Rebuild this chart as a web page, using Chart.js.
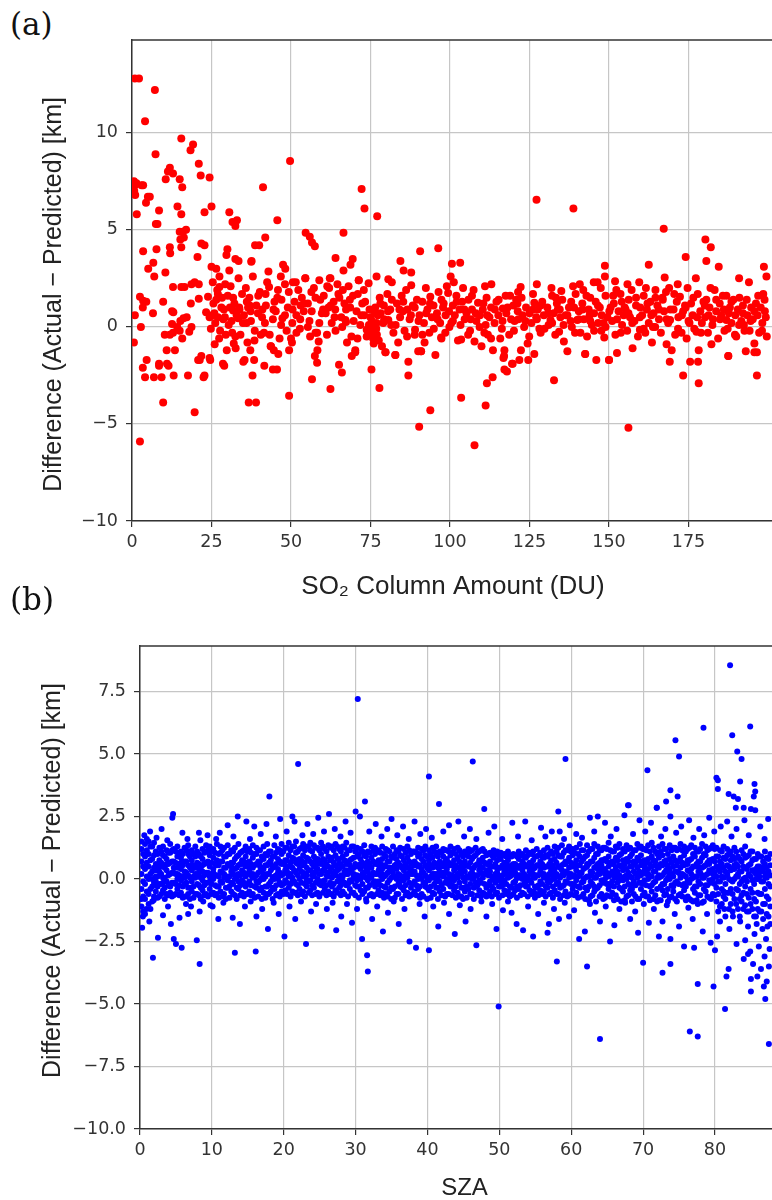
<!DOCTYPE html>
<html>
<head>
<meta charset="utf-8">
<script src="https://cdn.jsdelivr.net/npm/chart.js@4.4.1/dist/chart.umd.min.js"></script>
<style>
html, body { margin: 0; padding: 0; background: #fff; overflow: hidden; }
#page { position: relative; width: 772px; height: 1200px; overflow: hidden; }
.tag { position: absolute; left: 10px; font-family: "DejaVu Serif", serif; font-size: 31px; line-height: 1; color: #111; }
canvas { position: absolute; left: 0; }
</style>
</head>
<body>
<div id="page">
  <div class="tag" style="top:9px">(a)</div>
  <canvas id="chartA" width="778" height="600" style="top:0"></canvas>
  <div class="tag" style="top:584px">(b)</div>
  <canvas id="chartB" width="792" height="600" style="top:600px"></canvas>
</div>
<script>
// ---- panel (a): SO2 column amount vs difference ----
const so2Ticks = [0, 25, 50, 75, 100, 125, 150, 175];
const diffTicksA = [-10, -5, 0, 5, 10];

// low SO2, wide spread
const so2Low = [
  [0.9,12.8],[2.2,12.8],[7.2,12.2],[4.1,10.6],[15.5,9.7],[19.2,9.4],[18.4,9.1],[7.4,8.9],[21,8.4],[11.9,8.2],[11.3,8.0],[12.9,7.9],[10.6,7.6],[15,7.6],[15.8,7.2],[21.6,7.8],[24.4,7.7],
  [0.6,7.5],[0.9,7.3],[0.7,7.0],[1.0,6.8],[1.4,7.4],[3,7.3],[3.5,7.3],[5.6,6.7],[5,6.7],[4.4,6.4],[1.5,5.8],[8.5,6.0],[14.3,6.2],[15.5,5.8],[7.5,5.3],[8,5.3],[25,6.2],[22.8,5.9],
  [15,4.9],[15.2,4.5],[16,4.9],[16.3,4.6],[17,5.0],[3.5,3.9],[7.7,4.0],[11.9,4.1],[12,3.8],[15.5,4.1],[21.8,4.3],[22.8,4.2],[20.6,3.6],
  [5.1,3.0],[6.7,3.3],[7,2.6],[10.5,2.8],[12.9,2.05],[15.5,2.05],[16.5,2.05],[18.7,2.2],[19.7,2.3],[21,2.2],[23.9,1.55],[21,1.45],
  [2.5,1.55],[3.5,1.35],[4.5,1.3],[9.8,1.3],[3.4,1.0],[6.6,0.7],[12.6,0.8],[18.5,1.2],[13,0.75],[0.9,0.6],[12.6,0.15],[15.2,0.3],[16.2,0.45],[17.2,0.5],[14.2,0.0],[23.3,0.75],[24.4,0.5],
  [2.8,0],[18.7,0],[24.8,-0.1],[0.6,-0.8],[10.3,-0.4],[11.9,-0.4],[12.9,-0.3],[15,-0.2],[15.8,-0.6],[18,-0.25],[10.9,-1.2],[13.5,-1.2],[21.8,-1.5],[24.4,-1.6],[20.8,-1.7],
  [4.6,-1.7],[3.4,-2.1],[8.5,-1.9],[11,-1.9],[4.1,-2.6],[6.9,-2.6],[8.5,-2.0],[9.3,-2.6],[11.5,-2.0],[13.1,-2.5],[17.6,-2.5],[21.3,-1.7],[22.5,-2.6],[22.8,-2.5],[24.6,-1.7],
  [9.8,-3.9],[19.7,-4.4],[2.5,-5.9]
];

// main band, SO2 25-200
const so2Band = [
  [25.6,1.2],[26.2,0.2],[26.8,1.9],[27.4,-0.6],[28.1,1.0],[28.7,0.4],[29.3,2.2],[29.8,-1.2],[26.0,-0.9],[28.3,1.5],
  [25.4,2.3],[27.5,2.05],[27,1.7],[25,3.1],[26.5,3.0],[27.5,2.6],[30.6,2.9],[30,4.0],[29.7,3.7],[32.5,3.5],[33.5,3.4],[37.5,3.35],[40,4.2],[30.6,5.9],[31.6,5.4],[32.5,5.2],[33,5.5],
  [25.9,0.7],[27,0.5],[29.2,0.5],[31.8,0.85],[33.4,0.45],[36,0.2],[36.5,1.0],[37,1.1],[31.8,1.5],[29.5,-0.4],[32,-0.85],[32.6,-1.1],[35.4,-1.7],[38.4,-1.7],[28.6,-1.9],[29,-2.0],[35,-1.8],[37.9,-2.5],[36.7,-3.9],[39,-3.9],
  [30.4,0.1],[31.0,2.1],[31.5,-0.3],[32.2,1.2],[32.9,0.6],[33.5,2.5],[34.1,-0.4],[34.6,1.7],[30.8,1.0],[33.8,0.9],
  [35.2,0.6],[35.8,2.0],[36.3,-0.8],[36.9,1.5],[37.4,0.3],[38.0,2.6],[38.6,-0.2],[39.1,1.1],[39.6,0.7],[37.2,-1.2],
  [40.2,1.8],[40.5,-0.4],[41.0,0.9],[41.5,-0.3],[42.0,1.7],[42.5,2.3],[43.1,2.05],[43.6,-1.0],[44.3,0.4],[44.8,1.3],[41.8,0.2],
  [45.2,0.8],[45.9,1.9],[46.4,-0.6],[47.0,1.4],[47.3,0.45],[48.1,2.2],[48.6,-0.2],[49.0,1.0],[49.4,-1.2],[50.0,-0.6],[46.8,2.6],
  [50.4,0.2],[50.3,-0.8],[51.1,1.3],[51.7,0.6],[52.3,1.9],[52.8,-0.1],[53.4,1.5],[54.0,0.8],[54.5,2.5],[53.0,1.1],[51.5,2.3],
  [55.3,1.2],[55.8,0.3],[56.4,1.8],[57.2,2.0],[57.7,-0.3],[58.2,-0.3],[58.7,-0.75],[59.2,1.4],[59.7,0.7],[56.0,-0.5],[58.9,2.4],
  [60.3,1.6],[60.9,0.7],[61.4,2.1],[62.0,2.0],[62.4,2.5],[62.8,0.2],[63.4,1.3],[64.0,-0.2],[64.6,2.2],[61.8,1.0],[63.9,0.9],
  [65.2,1.5],[65.8,0.5],[66.3,1.9],[67.1,0.35],[67.3,0.25],[67.6,-0.8],[68.1,2.1],[68.6,1.0],[69.0,-0.5],[69.5,1.6],[66.8,1.2],
  [70.2,-1.2],[70.6,0.8],[71.0,1.7],[71.3,2.4],[71.8,0.1],[72.4,1.2],[73.0,0.6],[73.8,-0.15],[73.8,-0.5],[74.4,2.25],[74.7,0.9],[72.9,1.9],
  [75.1,-0.3],[75.4,0.3],[75.8,-0.6],[76.0,-0.85],[76.3,0.0],[76.5,1.0],[77.0,-0.4],[77.3,0.6],[77.9,1.5],[78.6,-1.0],[79.0,0.2],[79.7,-1.3],[79.2,1.1],[76.8,-0.1],[78.2,0.7],
  [80.3,1.7],[80.6,0.35],[80.6,2.45],[81.2,0.9],[81.7,2.3],[82.2,-0.3],[82.8,-1.45],[83.3,1.2],[83.7,-0.8],[84.3,0.5],[84.8,1.6],[81.5,0.1],
  [85.2,0.8],[85.7,-0.2],[86.2,1.9],[86.9,-1.8],[86.9,-2.5],[87.3,0.4],[87.8,2.15],[88.3,1.1],[88.9,-0.4],[89.0,-0.15],[89.6,1.4],[86.6,0.9],
  [90.0,-1.25],[90.4,0.6],[90.9,-1.25],[91.3,1.3],[91.8,0.2],[92.4,2.0],[92.9,0.9],[93.5,-0.3],[93.8,1.55],[94.3,0.5],[94.8,1.1],[92.0,-0.8],
  [95.4,-1.45],[95.9,0.7],[96.4,1.8],[96.9,0.2],[97.2,-0.55],[97.3,-0.6],[98.0,1.2],[98.6,0.6],[99.0,2.1],[99.4,1.75],[99.8,0.0],[97.8,1.0],
  [100.4,0.2],[100.9,1.1],[101.5,0.6],[102.0,1.6],[102.5,-0.7],[103.0,0.9],[103.5,-0.65],[104.1,2.0],[104.6,0.4],[101.2,2.3],[103.8,1.3],
  [105.2,0.7],[105.8,1.4],[106.3,-0.2],[106.9,0.9],[107.4,1.9],[107.7,-0.75],[108.3,0.3],[108.8,1.25],[109.4,0.6],[109.9,-1.0],[106.5,0.4],
  [110.3,0.9],[110.8,-0.3],[111.5,1.5],[111.9,-0.4],[112.4,0.5],[112.9,1.0],[113.5,-1.2],[114.0,0.2],[114.6,1.3],[113.0,2.2],[111.2,0.1],
  [115.2,0.6],[115.8,-0.6],[116.3,-0.1],[116.6,0.95],[117.1,-1.2],[117.5,1.6],[118.1,1.0],[118.6,-0.4],[119.2,0.4],[119.7,-1.9],[119.9,1.1],[117.0,-1.5],
  [120.3,0.3],[120.8,1.4],[121.2,1.2],[121.8,-1.7],[122.3,-1.2],[122.8,0.6],[123.3,0.0],[123.9,1.0],[124.4,-0.85],[124.6,-1.7],[125.0,0.7],[121.5,0.4],
  [125.6,0.2],[126.1,1.7],[126.5,1.25],[126.5,-1.4],[127.1,0.5],[127.6,0.9],[128.1,-0.1],[128.5,-0.3],[129.0,1.3],[129.5,0.6],[127.3,2.2],
  [130.6,1.0],[131.0,0.1],[131.6,0.35],[132.1,1.6],[132.6,0.7],[133.1,-0.4],[133.6,1.2],[134.3,-0.25],[134.7,0.5],[131.9,2.0],[133.9,0.9],
  [135.3,1.4],[135.8,-0.75],[136.4,0.6],[136.9,-1.25],[137.4,1.0],[137.9,0.3],[138.3,0.0],[139.0,1.0],[139.5,1.7],[140.0,0.35],[138.7,2.1],
  [140.5,0.8],[141.0,-0.3],[141.6,1.2],[142.1,0.4],[142.5,-1.4],[143.1,-0.5],[143.6,0.9],[144.1,1.5],[144.6,0.1],[141.9,1.9],[143.9,0.6],
  [145.3,0.7],[145.8,1.3],[146.0,-1.7],[146.6,0.2],[147.1,1.0],[147.6,-0.2],[148.3,0.2],[148.5,-0.55],[148.9,1.6],[149.5,0.5],[150.0,-1.7],[147.4,2.0],
  [150.5,1.0],[151.0,0.3],[151.5,1.2],[152.0,-0.4],[152.5,-1.35],[153.0,0.8],[153.6,1.7],[154.1,0.1],[154.6,0.6],[152.3,1.9],[154.0,1.3],
  [155.2,0.9],[155.7,-0.2],[156.2,1.4],[156.6,0.5],[157.1,1.9],[157.4,-1.1],[158.0,0.3],[158.5,1.1],[159.1,-0.5],[159.7,-0.15],[159.8,1.0],
  [160.4,0.6],[160.9,1.6],[161.4,-0.3],[161.9,0.9],[162.5,0.2],[163.0,1.3],[163.5,-0.8],[164.0,0.7],[164.6,1.9],[161.6,2.0],[163.8,0.0],
  [165.2,1.1],[165.7,0.4],[166.3,-0.3],[166.8,1.5],[167.3,0.8],[168.1,-0.9],[168.6,0.2],[169.2,0.35],[169.7,-1.2],[169.1,-1.8],[167.9,1.8],
  [170.3,0.9],[170.8,-0.4],[171.3,1.3],[171.8,0.5],[172.3,1.55],[172.8,-0.3],[173.3,0.8],[173.9,1.1],[174.4,-0.6],[175.0,0.3],[171.6,2.2],
  [175.5,-1.8],[175.8,1.2],[176.3,0.6],[176.8,-0.1],[177.5,-0.25],[177.9,1.7],[178.0,-1.8],[178.2,-1.2],[178.7,0.8],[179.2,0.2],[179.7,1.3],
  [180.2,0.5],[180.6,1.4],[181.1,-0.3],[181.6,1.0],[182.2,-0.9],[182.7,0.4],[183.2,1.9],[183.7,0.8],[184.3,-0.6],[184.8,1.2],[181.9,2.0],
  [185.3,0.6],[185.8,1.6],[186.3,-0.2],[186.9,0.35],[186.9,1.6],[187.5,-1.5],[188.0,1.0],[188.5,0.2],[189.1,1.4],[189.6,-0.4],[187.7,0.7],
  [190.0,-0.5],[190.5,0.9],[191.0,1.5],[191.6,0.3],[192.1,1.1],[192.6,-0.2],[193.0,-1.25],[193.5,0.6],[194.2,-0.2],[194.7,1.0],[192.4,0.1],
  [195.2,0.4],[195.7,-0.85],[196.2,1.2],[196.7,0.6],[197.2,-0.3],[197.7,1.0],[198.2,0.2],[198.5,1.7],[199.0,0.8],[199.6,-0.5],[196.5,-1.3],[198.9,1.4]
];

// second pass over the band's densest part
const so2Core = [
  [25.3,0.6],[26.5,1.4],[27.7,-0.2],[28.9,0.9],[30.1,1.6],[31.3,0.3],[32.5,-0.5],[33.7,1.0],[34.9,0.2],[36.1,1.3],[37.3,0.8],[38.5,-0.7],[39.7,1.6],[40.9,0.5],[42.1,1.1],
  [43.3,-0.4],[44.5,0.9],[45.7,1.5],[46.9,0.1],[48.1,0.6],[49.3,1.8],[50.5,0.9],[51.7,-0.3],[52.9,0.4],[54.1,1.2],[55.3,0.0],[56.5,0.8],[57.7,1.5],[58.9,0.2],[60.1,0.9],
  [61.3,-0.4],[62.5,1.1],[63.7,0.5],[64.9,1.7],[66.1,0.0],[67.3,0.9],[68.5,1.4],[69.7,0.3],[70.9,-0.6],[72.1,0.6],[73.3,1.3],[74.5,0.1],[75.0,0.5],[75.7,-0.2],[76.2,0.8],
  [76.9,0.2],[77.6,-0.7],[78.1,1.2],[79.3,0.4],[80.5,0.8],[81.7,1.4],[82.9,0.1],[84.1,0.9],[85.3,1.3],[86.5,-0.5],[87.7,0.6],[88.9,1.0],[90.1,0.3],[91.3,-0.4],[92.5,0.7],
  [93.7,1.2],[94.9,-0.1],[96.1,0.4],[97.3,1.4],[98.5,-0.3],[99.7,0.8],[100.9,0.3],[102.1,1.3],[103.3,0.1],[104.5,0.9],[105.7,-0.4],[106.9,1.6],[108.1,0.7],[109.3,0.0],
  [110.5,1.2],[111.7,0.6],[112.9,-0.6],[114.1,0.9],[115.3,1.4],[116.5,0.3],[117.7,0.7],[118.9,1.6],[120.1,-0.2],[121.3,0.8],[122.5,1.5],[123.7,0.3],[124.9,-0.5],[126.1,0.9],
  [127.3,0.4],[128.5,1.1],[129.7,-0.1],[130.9,0.7],[132.1,0.2],[133.3,1.5],[134.5,0.9],[135.7,0.1],[136.9,0.6],[138.1,1.3],[139.3,-0.3],[140.5,0.4],[141.7,0.9],[142.9,1.6],
  [144.1,0.3],[145.3,-0.2],[146.5,1.1],[147.7,0.6],[148.9,0.0],[150.1,0.8],[151.3,1.6],[152.5,0.4],[153.7,-0.3],[154.9,1.0],[156.1,0.7],[157.3,0.2],[158.5,1.5],[159.7,0.5],
  [160.9,-0.1],[162.1,1.2],[163.3,0.6],[164.5,0.0],[165.7,0.9],[166.9,1.4],[168.1,0.4],[169.3,0.9],[170.5,1.7],[171.7,-0.1],[172.9,0.6],[174.1,1.0],[175.3,0.2],[176.5,1.5],
  [177.7,0.5],[178.9,-0.3],[180.1,1.1],[181.3,0.6],[182.5,0.1],[183.7,1.4],[184.9,0.4],[186.1,0.9],[187.3,-0.1],[188.5,1.3],[189.7,0.6],[190.9,0.1],[192.1,0.7],[193.3,1.4],
  [194.5,0.3],[195.7,0.8],[196.9,1.6],[198.1,-0.2],[199.3,0.5]
];

// points lying off the band
const so2Off = [
  [49.7,8.55],[41.2,7.2],[72.2,7.1],[73.1,6.1],[77.1,5.7],[45.7,5.5],[54.6,4.85],[55.9,4.65],[56.6,4.35],[57.5,4.15],[66.5,4.85],[41.9,4.6],[38.7,4.2],[37.6,3.4],[42.9,2.85],
  [64,3.55],[69.4,3.5],[68.7,3.2],[66.5,2.9],[47.5,3.2],[48.2,3.0],[84.4,3.4],[85.4,2.9],[90.6,3.9],[96.3,4.05],[100.6,3.25],[103.2,3.3],[100.2,2.6],[87.8,2.8],[111,2.1],
  [50.6,2.3],[54.5,2.5],[62.2,2.5],[71.3,2.4],[76.9,2.6],
  [121.4,1.8],[122.2,2.05],[127.2,6.55],[138.8,6.1],[135,1.85],[140.8,2.2],[145.2,2.3],[146.4,2.3],[148.7,3.15],[148.7,2.6],[151.9,2.35],[155.8,2.2],[159.5,2.3],[162.5,3.2],
  [164.6,1.5],[167.2,5.05],[167.5,2.55],[168.9,2.0],[174.1,3.6],[174.7,2.0],[177.3,2.5],[180.3,4.5],[182,4.1],[180.6,3.4],[184.5,3.1],[190.9,2.5],[194,2.3],[198.7,3.1],[199.5,2.6],
  [49.4,-3.55],[62.4,-3.2],[56.6,-2.7],[66,-2.35],[65.1,-1.95],[41.6,-2.0],[44.3,-2.2],[45.6,-2.2],[75.3,-2.2],[77.8,-3.15],[90.3,-5.15],[93.8,-4.3],[103.5,-3.65],[111.2,-4.05],
  [107.7,-6.1],[111.6,-2.9],[113.4,-2.6],[117.1,-2.2],[117.9,-2.3],[119.5,-1.9],[90.9,-1.25],[58.2,-1.85],[57.5,-1.5],[58.3,-1.2],[70.2,-1.3],[69.1,-1.5],[156.1,-5.2],
  [132.7,-2.75],[173.3,-2.5],[178.2,-2.9],[196.5,-2.5],[116.8,-1.6],[142.5,-1.4],[150,-1.7],[187.5,-1.5],[195.7,-1.3],[43.7,-1.0],[44.6,-1.2],[46,-1.4],[82.8,-1.45],[79.7,-1.3]
];

// ---- panel (b): SZA vs difference ----
const szaTicks = [0, 10, 20, 30, 40, 50, 60, 70, 80];
const diffTicksB = [-10, -7.5, -5, -2.5, 0, 2.5, 5, 7.5];

// dense core of the band: [sza, [differences]]
const szaCore = [
  [0.2,[-1.1,-0.4,0.2,0.7,1.2,1.5]],[0.7,[-0.8,-0.2,0.4,0.9,1.4,-1.4]],[1.2,[-0.6,0.0,0.5,1.0,1.5,-1.0]],[1.7,[-0.9,-0.3,0.3,0.8,1.3,0.0]],
  [2.2,[-0.5,0.1,0.6,1.1,-0.1,0.35]],[2.7,[-0.7,-0.2,0.3,0.75,1.25,0.5]],[3.2,[-0.45,0.05,0.5,0.95,1.3,-0.15]],[3.7,[-0.6,-0.1,0.35,0.8,1.15,0.6]],
  [4.2,[-0.3,0.2,0.65,1.05,1.4,-0.55]],[4.7,[-0.65,-0.15,0.25,0.7,1.2,0.45]],[5.2,[-0.4,0.0,0.45,0.9,1.3,0.2]],[5.7,[-0.55,-0.05,0.4,0.85,1.1,0.65]],
  [6.2,[-0.7,-0.2,0.3,0.7,1.25,0.05]],[6.7,[-0.35,0.15,0.55,1.0,1.35,-0.6]],[7.2,[-0.5,-0.1,0.35,0.75,1.15,0.55]],[7.7,[-0.6,0.05,0.45,0.9,1.3,0.2]],
  [8.2,[-0.25,0.2,0.6,1.0,-0.65,0.4]],[8.7,[-0.45,-0.05,0.3,0.8,1.2,0.55]],[9.2,[-0.6,-0.15,0.25,0.65,1.1,1.35]],[9.7,[-0.4,0.1,0.5,0.95,1.3,-0.1]],
  [10.2,[-0.55,0.0,0.4,0.85,1.2,0.25]],[10.7,[-0.3,0.15,0.55,0.75,1.4,-0.6]],[11.2,[-0.5,-0.1,0.3,0.7,1.05,1.3]],[11.7,[-0.6,0.05,0.45,0.9,1.25,0.2]],
  [12.2,[-0.35,0.1,0.6,1.0,1.35,-0.05]],[12.7,[-0.5,-0.15,0.3,0.65,1.15,0.5]],[13.2,[-0.65,0.0,0.4,0.8,1.25,0.15]],[13.7,[-0.4,0.2,0.55,0.95,1.4,-0.1]],
  [14.2,[-0.55,-0.05,0.35,0.75,1.1,0.6]],[14.7,[-0.3,0.1,0.5,0.9,1.3,-0.6]],[15.2,[-0.5,-0.1,0.3,0.7,1.2,0.45]],[15.7,[-0.6,0.05,0.45,0.85,1.35,0.2]],
  [16.2,[-0.35,0.15,0.6,1.0,1.25,-0.1]],[16.7,[-0.45,-0.05,0.3,0.7,1.15,0.5]],[17.2,[-0.55,0.0,0.4,0.8,1.3,0.2]],[17.7,[-0.3,0.2,0.55,0.95,1.4,-0.6]],
  [18.2,[-0.5,-0.1,0.35,0.75,1.1,0.6]],[18.7,[-0.4,0.1,0.5,0.9,1.35,0.0]],[19.2,[-0.6,0.0,0.4,0.8,1.2,0.25]],[19.7,[-0.25,0.15,0.6,1.0,1.4,-0.5]],
  [20.2,[-0.45,-0.05,0.35,0.75,1.25,0.55]],[20.7,[-0.35,0.1,0.5,0.95,1.45,0.2]],[21.2,[-0.5,0.05,0.45,0.85,1.3,-0.1]],[21.7,[-0.2,0.25,0.65,1.05,1.5,-0.55]],
  [22.2,[-0.4,0.0,0.4,0.8,1.2,0.6]],[22.7,[-0.5,0.1,0.55,0.95,1.4,0.25]],[23.2,[-0.3,0.15,0.45,0.85,1.3,-0.05]],[23.7,[-0.45,-0.05,0.35,0.7,1.15,1.45]],
  [24.2,[-0.35,0.1,0.5,0.9,1.35,0.2]],[24.7,[-0.55,0.0,0.4,0.8,1.25,0.6]],[25.2,[-0.25,0.2,0.6,1.0,1.45,-0.1]],[25.7,[-0.4,-0.05,0.35,0.75,1.2,0.5]],
  [26.2,[-0.5,0.1,0.5,0.9,1.35,0.25]],[26.7,[-0.3,0.05,0.45,0.85,1.3,-0.6]],[27.2,[-0.45,0.15,0.55,0.95,1.4,0.3]],[27.7,[-0.35,0.0,0.4,0.8,1.2,0.6]],
  [28.2,[-0.5,0.1,0.5,0.9,1.3,-0.1]],[28.7,[-0.25,0.2,0.6,1.0,1.45,0.35]],[29.2,[-0.4,-0.05,0.35,0.75,1.15,0.55]],[29.7,[-0.55,0.05,0.45,0.85,1.3,0.2]],
  [30.2,[-0.3,0.15,0.5,0.9,1.25,-0.05]],[30.7,[-0.45,0.0,0.4,0.8,1.2,0.6]],[31.2,[-0.5,0.1,0.55,0.95,1.35,0.25]],[31.7,[-0.35,-0.05,0.3,0.7,1.1,0.5]],
  [32.2,[-0.6,0.05,0.45,0.85,1.3,0.15]],[32.7,[-0.3,0.2,0.6,1.0,1.25,-0.1]],[33.2,[-0.45,-0.1,0.35,0.75,1.15,0.55]],[33.7,[-0.55,0.0,0.4,0.8,1.3,0.2]],
  [34.2,[-0.35,0.15,0.5,0.9,1.2,-0.6]],[34.7,[-0.5,-0.05,0.3,0.7,1.1,0.45]],[35.2,[-0.4,0.1,0.45,0.85,1.3,0.25]],[35.7,[-0.6,0.0,0.4,0.8,1.15,0.6]],
  [36.2,[-0.3,0.15,0.55,0.95,1.25,-0.1]],[36.7,[-0.45,-0.05,0.35,0.75,1.2,0.5]],[37.2,[-0.55,0.05,0.45,0.85,1.3,0.2]],[37.7,[-0.35,0.2,0.6,1.0,-0.65,0.4]],
  [38.2,[-0.5,-0.1,0.3,0.7,1.1,0.55]],[38.7,[-0.4,0.1,0.5,0.9,1.25,0.0]],[39.2,[-0.6,0.0,0.4,0.8,1.2,0.25]],[39.7,[-0.3,0.15,0.55,0.95,1.3,-0.15]],
  [40.2,[-0.45,-0.05,0.35,0.75,1.15,0.6]],[40.7,[-0.55,0.05,0.45,0.85,1.25,0.2]],[41.2,[-0.35,0.2,0.6,1.0,1.3,-0.1]],[41.7,[-0.5,-0.1,0.3,0.7,1.1,0.5]],
  [42.2,[-0.4,0.1,0.5,0.9,1.2,0.25]],[42.7,[-0.6,0.0,0.4,0.8,1.15,0.6]],[43.2,[-0.3,0.15,0.55,0.95,1.3,-0.05]],[43.7,[-0.45,-0.05,0.35,0.75,1.2,0.5]],
  [44.2,[-0.55,0.05,0.45,0.85,1.25,0.2]],[44.7,[-0.35,0.2,0.6,1.0,-0.7,0.4]],[45.2,[-0.5,-0.1,0.3,0.7,1.1,0.55]],[45.7,[-0.4,0.1,0.5,0.9,1.2,0.05]],
  [46.2,[-0.6,0.0,0.4,0.8,1.15,0.25]],[46.7,[-0.3,0.15,0.55,0.95,1.25,-0.15]],[47.2,[-0.45,-0.05,0.35,0.75,1.1,0.55]],[47.7,[-0.55,0.05,0.45,0.85,1.2,0.2]],
  [48.2,[-0.35,0.2,0.6,0.95,-0.7,0.35]],[48.7,[-0.5,-0.1,0.3,0.7,1.05,0.5]],[49.2,[-0.4,0.1,0.5,0.85,1.15,0.0]],[49.7,[-0.55,0.0,0.4,0.75,1.1,0.25]],
  [50.2,[-0.3,0.1,0.45,0.8,1.05,-0.1]],[50.7,[-0.45,-0.05,0.3,0.65,1.0,0.5]],[51.2,[-0.5,0.05,0.4,0.75,1.1,0.2]],[51.7,[-0.35,0.15,0.55,0.9,-0.65,0.35]],
  [52.2,[-0.45,-0.1,0.25,0.6,0.95,0.45]],[52.7,[-0.4,0.05,0.45,0.8,1.1,0.15]],[53.2,[-0.55,0.0,0.35,0.7,1.0,0.55]],[53.7,[-0.3,0.1,0.5,0.85,1.15,-0.1]],
  [54.2,[-0.45,-0.05,0.3,0.65,1.05,0.45]],[54.7,[-0.5,0.05,0.4,0.75,1.1,0.2]],[55.2,[-0.35,0.15,0.55,0.9,1.2,-0.6]],[55.7,[-0.45,-0.1,0.3,0.7,1.05,0.5]],
  [56.2,[-0.5,0.05,0.45,0.85,1.15,0.2]],[56.7,[-0.35,0.1,0.5,0.9,1.25,-0.1]],[57.2,[-0.55,-0.05,0.35,0.75,1.1,0.55]],[57.7,[-0.45,0.0,0.4,0.8,1.3,0.2]],
  [58.2,[-0.6,0.1,0.5,0.95,1.25,-0.15]],[58.7,[-0.3,0.15,0.55,0.9,1.35,0.35]],[59.2,[-0.5,-0.1,0.3,0.7,1.15,0.6]],[59.7,[-0.65,0.05,0.45,0.85,1.3,0.2]],
  [60.2,[-0.4,0.1,0.5,0.95,1.2,-0.2]],[60.7,[-0.55,-0.05,0.35,0.75,1.25,0.55]],[61.2,[-0.35,0.15,0.55,0.9,1.4,0.25]],[61.7,[-0.6,0.0,0.4,0.8,1.15,-0.1]],
  [62.2,[-0.45,0.1,0.5,0.95,1.35,0.6]],[62.7,[-0.7,-0.1,0.3,0.7,1.2,0.15]],[63.2,[-0.5,0.05,0.45,0.85,1.4,-0.3]],[63.7,[-0.35,0.2,0.6,1.0,1.3,0.4]],
  [64.2,[-0.6,-0.05,0.35,0.75,1.15,0.55]],[64.7,[-0.75,0.0,0.4,0.8,1.25,0.2]],[65.2,[-0.4,0.1,0.5,0.9,1.45,-0.2]],[65.7,[-0.55,-0.1,0.3,0.7,1.1,0.6]],
  [66.2,[-0.65,0.05,0.45,0.85,1.3,0.25]],[66.7,[-0.35,0.15,0.55,0.95,1.4,-0.05]],[67.2,[-0.5,-0.05,0.35,0.75,1.2,0.55]],[67.7,[-0.7,0.0,0.4,0.8,1.35,0.15]],
  [68.2,[-0.45,0.1,0.5,0.9,1.25,-0.25]],[68.7,[-0.6,-0.1,0.3,0.7,1.15,0.6]],[69.2,[-0.8,0.05,0.45,0.85,1.4,0.2]],[69.7,[-0.4,0.15,0.55,0.95,1.3,-0.15]],
  [70.2,[-0.55,-0.05,0.35,0.75,1.2,0.5]],[70.7,[-0.7,0.0,0.4,0.8,1.35,0.2]],[71.2,[-0.5,0.1,0.5,0.9,1.45,-0.25]],[71.7,[-0.65,-0.1,0.3,0.7,1.1,0.55]],
  [72.2,[-0.85,0.05,0.45,0.85,1.3,0.15]],[72.7,[-0.45,0.15,0.55,0.95,1.4,-0.2]],[73.2,[-0.6,-0.05,0.35,0.75,1.2,0.6]],[73.7,[-0.75,0.0,0.4,0.8,1.35,0.2]],
  [74.2,[-0.5,0.1,0.5,0.9,1.25,-0.3]],[74.7,[-0.9,-0.1,0.3,0.7,1.15,0.55]],[75.2,[-0.6,0.05,0.45,0.85,1.4,0.15]],[75.7,[-0.45,0.15,0.55,0.95,1.3,-0.2]],
  [76.2,[-0.7,-0.05,0.35,0.75,1.2,0.6]],[76.7,[-0.85,0.0,0.4,0.8,1.35,0.2]],[77.2,[-0.55,0.1,0.5,0.9,1.25,-0.3]],[77.7,[-0.65,-0.1,0.3,0.7,1.1,0.5]],
  [78.2,[-0.95,0.05,0.45,0.85,1.4,0.15]],[78.7,[-0.5,0.15,0.55,0.95,1.3,-0.25]],[79.2,[-0.75,-0.05,0.35,0.75,1.2,0.6]],[79.7,[-0.6,0.0,0.4,0.8,1.35,0.2]],
  [80.2,[-0.9,0.1,0.5,0.9,1.25,-0.35]],[80.7,[-1.1,-0.1,0.3,0.7,1.15,0.5]],[81.2,[-0.7,0.05,0.45,0.85,1.3,-0.5]],[81.7,[-0.55,0.15,0.55,0.95,1.2,0.2]],
  [82.2,[-1.0,-0.05,0.35,0.75,1.1,-0.4]],[82.7,[-0.8,0.0,0.4,0.8,1.25,0.55]],[83.2,[-1.2,0.1,0.5,0.9,-0.45,0.2]],[83.7,[-0.65,-0.1,0.3,0.7,1.15,-0.9]],
  [84.2,[-1.05,0.05,0.45,0.85,1.3,-0.3]],[84.7,[-0.75,0.15,0.55,0.95,-1.3,0.2]],[85.2,[-1.2,-0.05,0.35,0.75,1.1,-0.55]],[85.7,[-0.9,0.0,0.4,0.8,-1.5,0.2]],
  [86.2,[-1.3,0.1,0.5,0.9,-0.6,0.3]],[86.7,[-1.0,-0.1,0.3,0.7,-1.6,0.45]],[87.2,[-1.4,0.05,0.45,0.85,-0.7,0.2]],[87.7,[-1.1,0.15,0.55,1.0,-1.8,-0.3]]
];

// interleaved columns filling the core
const szaCore2 = [
  [0.45,[-1.3,-0.7,-0.1,0.5,1.0]],[0.95,[-0.5,0.1,0.65,1.15,1.6]],[1.45,[-1.2,-0.4,0.2,0.75,1.3]],[1.95,[-0.7,-0.15,0.45,0.95,1.45]],
  [2.45,[-0.75,-0.3,0.1,0.55,1.0]],[2.95,[-0.6,-0.2,0.2,0.65,1.1]],[3.45,[-0.8,-0.35,0.05,0.45,0.9]],[3.95,[-0.65,-0.25,0.15,0.6,1.05]],
  [4.45,[-0.7,-0.15,0.25,0.7,1.15]],[4.95,[-0.6,-0.2,0.2,0.65,1.1]],[5.45,[-0.65,-0.25,0.15,0.6,1.05]],[5.95,[-0.75,-0.3,0.1,0.55,1.0]],
  [6.45,[-0.7,-0.15,0.25,0.7,1.15]],[6.95,[-0.8,-0.35,0.05,0.45,0.9]],[7.45,[-0.75,-0.3,0.1,0.55,1.0]],[7.95,[-0.6,-0.2,0.2,0.65,1.1]],
  [8.45,[-0.8,-0.35,0.05,0.45,0.9]],[8.95,[-0.65,-0.25,0.15,0.6,1.05]],[9.45,[-0.7,-0.15,0.25,0.7,1.15]],[9.95,[-0.6,-0.2,0.2,0.65,1.1]],
  [10.45,[-0.65,-0.25,0.15,0.6,1.05]],[10.95,[-0.75,-0.3,0.1,0.55,1.0]],[11.45,[-0.7,-0.15,0.25,0.7,1.15]],[11.95,[-0.8,-0.35,0.05,0.45,0.9]],
  [12.45,[-0.75,-0.3,0.1,0.55,1.0]],[12.95,[-0.6,-0.2,0.2,0.65,1.1]],[13.45,[-0.8,-0.35,0.05,0.45,0.9]],[13.95,[-0.65,-0.25,0.15,0.6,1.05]],
  [14.45,[-0.7,-0.15,0.25,0.7,1.15]],[14.95,[-0.6,-0.2,0.2,0.65,1.1]],[15.45,[-0.65,-0.25,0.15,0.6,1.05]],[15.95,[-0.75,-0.3,0.1,0.55,1.0]],
  [16.45,[-0.7,-0.15,0.25,0.7,1.15]],[16.95,[-0.8,-0.35,0.05,0.45,0.9]],[17.45,[-0.75,-0.3,0.1,0.55,1.0]],[17.95,[-0.6,-0.2,0.2,0.65,1.1]],
  [18.45,[-0.8,-0.35,0.05,0.45,0.9]],[18.95,[-0.65,-0.25,0.15,0.6,1.05]],[19.45,[-0.7,-0.15,0.25,0.7,1.15]],[19.95,[-0.6,-0.2,0.2,0.65,1.1]],
  [20.45,[-0.6,-0.15,0.3,0.75,1.25]],[20.95,[-0.7,-0.2,0.2,0.65,1.15]],[21.45,[-0.55,-0.1,0.35,0.8,1.3]],[21.95,[-0.65,-0.25,0.15,0.6,1.1]],
  [22.45,[-0.6,-0.15,0.3,0.75,1.25]],[22.95,[-0.7,-0.2,0.2,0.65,1.15]],[23.45,[-0.55,-0.1,0.35,0.8,1.3]],[23.95,[-0.65,-0.25,0.15,0.6,1.1]],
  [24.45,[-0.6,-0.15,0.3,0.75,1.25]],[24.95,[-0.7,-0.2,0.2,0.65,1.15]],[25.45,[-0.55,-0.1,0.35,0.8,1.3]],[25.95,[-0.65,-0.25,0.15,0.6,1.1]],
  [26.45,[-0.6,-0.15,0.3,0.75,1.25]],[26.95,[-0.7,-0.2,0.2,0.65,1.15]],[27.45,[-0.55,-0.1,0.35,0.8,1.3]],[27.95,[-0.65,-0.25,0.15,0.6,1.1]],
  [28.45,[-0.6,-0.15,0.3,0.75,1.25]],[28.95,[-0.7,-0.2,0.2,0.65,1.15]],[29.45,[-0.55,-0.1,0.35,0.8,1.3]],[29.95,[-0.65,-0.25,0.15,0.6,1.1]],
  [30.45,[-0.75,-0.3,0.1,0.55,1.0]],[30.95,[-0.6,-0.2,0.2,0.65,1.1]],[31.45,[-0.8,-0.35,0.05,0.45,0.9]],[31.95,[-0.65,-0.25,0.15,0.6,1.05]],
  [32.45,[-0.7,-0.15,0.25,0.7,1.15]],[32.95,[-0.6,-0.2,0.2,0.65,1.1]],[33.45,[-0.65,-0.25,0.15,0.6,1.05]],[33.95,[-0.75,-0.3,0.1,0.55,1.0]],
  [34.45,[-0.7,-0.15,0.25,0.7,1.15]],[34.95,[-0.8,-0.35,0.05,0.45,0.9]],[35.45,[-0.75,-0.3,0.1,0.55,1.0]],[35.95,[-0.6,-0.2,0.2,0.65,1.1]],
  [36.45,[-0.8,-0.35,0.05,0.45,0.9]],[36.95,[-0.65,-0.25,0.15,0.6,1.05]],[37.45,[-0.7,-0.15,0.25,0.7,1.15]],[37.95,[-0.6,-0.2,0.2,0.65,1.1]],
  [38.45,[-0.65,-0.25,0.15,0.6,1.05]],[38.95,[-0.75,-0.3,0.1,0.55,1.0]],[39.45,[-0.7,-0.15,0.25,0.7,1.15]],[39.95,[-0.8,-0.35,0.05,0.45,0.9]],
  [40.45,[-0.75,-0.3,0.1,0.55,1.0]],[40.95,[-0.6,-0.2,0.2,0.65,1.1]],[41.45,[-0.8,-0.35,0.05,0.45,0.9]],[41.95,[-0.65,-0.25,0.15,0.6,1.05]],
  [42.45,[-0.7,-0.15,0.25,0.7,1.15]],[42.95,[-0.6,-0.2,0.2,0.65,1.1]],[43.45,[-0.65,-0.25,0.15,0.6,1.05]],[43.95,[-0.75,-0.3,0.1,0.55,1.0]],
  [44.45,[-0.7,-0.15,0.25,0.7,1.15]],[44.95,[-0.8,-0.35,0.05,0.45,0.9]],[45.45,[-0.75,-0.3,0.1,0.55,1.0]],[45.95,[-0.6,-0.2,0.2,0.65,1.1]],
  [46.45,[-0.8,-0.35,0.05,0.45,0.9]],[46.95,[-0.65,-0.25,0.15,0.6,1.05]],[47.45,[-0.7,-0.15,0.25,0.7,1.15]],[47.95,[-0.6,-0.2,0.2,0.65,1.1]],
  [48.45,[-0.65,-0.25,0.15,0.6,1.0]],[48.95,[-0.7,-0.3,0.1,0.5,0.95]],[49.45,[-0.6,-0.15,0.2,0.6,1.0]],[49.95,[-0.75,-0.3,0.05,0.45,0.9]],
  [50.45,[-0.65,-0.25,0.15,0.55,0.95]],[50.95,[-0.6,-0.2,0.2,0.6,0.9]],[51.45,[-0.7,-0.3,0.1,0.5,0.95]],[51.95,[-0.6,-0.15,0.2,0.6,1.0]],
  [52.45,[-0.75,-0.3,0.05,0.45,0.9]],[52.95,[-0.65,-0.25,0.15,0.55,0.95]],[53.45,[-0.6,-0.2,0.2,0.6,0.9]],[53.95,[-0.7,-0.3,0.1,0.5,0.95]],
  [54.45,[-0.6,-0.15,0.2,0.6,1.0]],[54.95,[-0.75,-0.3,0.05,0.45,0.9]],[55.45,[-0.65,-0.25,0.15,0.55,0.95]],[55.95,[-0.6,-0.2,0.2,0.6,0.9]],
  [56.45,[-0.7,-0.3,0.1,0.5,0.95]],[56.95,[-0.6,-0.15,0.2,0.6,1.0]],[57.45,[-0.75,-0.3,0.1,0.55,1.0]],[57.95,[-0.6,-0.2,0.2,0.65,1.1]],
  [58.45,[-0.8,-0.35,0.05,0.45,0.9]],[58.95,[-0.65,-0.25,0.15,0.6,1.05]],[59.45,[-0.7,-0.15,0.25,0.7,1.15]],[59.95,[-0.6,-0.2,0.2,0.65,1.1]],
  [60.45,[-0.65,-0.25,0.15,0.6,1.05]],[60.95,[-0.75,-0.3,0.1,0.55,1.0]],[61.45,[-0.7,-0.15,0.25,0.7,1.15]],[61.95,[-0.8,-0.35,0.05,0.45,0.9]],
  [62.45,[-0.85,-0.3,0.1,0.6,1.1]],[62.95,[-0.65,-0.2,0.25,0.7,1.2]],[63.45,[-0.9,-0.4,0.05,0.5,1.0]],[63.95,[-0.7,-0.25,0.2,0.65,1.15]],
  [64.45,[-0.8,-0.15,0.3,0.75,1.25]],[64.95,[-0.65,-0.2,0.25,0.7,1.2]],[65.45,[-0.7,-0.25,0.2,0.65,1.15]],[65.95,[-0.85,-0.3,0.1,0.6,1.1]],
  [66.45,[-0.8,-0.15,0.3,0.75,1.25]],[66.95,[-0.9,-0.4,0.05,0.5,1.0]],[67.45,[-0.85,-0.3,0.1,0.6,1.1]],[67.95,[-0.65,-0.2,0.25,0.7,1.2]],
  [68.45,[-0.9,-0.4,0.05,0.5,1.0]],[68.95,[-0.7,-0.25,0.2,0.65,1.15]],[69.45,[-0.8,-0.15,0.3,0.75,1.25]],[69.95,[-0.65,-0.2,0.25,0.7,1.2]],
  [70.45,[-0.7,-0.25,0.2,0.65,1.15]],[70.95,[-0.85,-0.3,0.1,0.6,1.1]],[71.45,[-0.8,-0.15,0.3,0.75,1.25]],[71.95,[-0.9,-0.4,0.05,0.5,1.0]],
  [72.45,[-0.85,-0.3,0.1,0.6,1.1]],[72.95,[-0.65,-0.2,0.25,0.7,1.2]],[73.45,[-0.9,-0.4,0.05,0.5,1.0]],[73.95,[-0.7,-0.25,0.2,0.65,1.15]],
  [74.45,[-0.8,-0.15,0.3,0.75,1.25]],[74.95,[-0.65,-0.2,0.25,0.7,1.2]],[75.45,[-0.7,-0.25,0.2,0.65,1.15]],[75.95,[-0.85,-0.3,0.1,0.6,1.1]],
  [76.45,[-0.8,-0.15,0.3,0.75,1.25]],[76.95,[-0.9,-0.4,0.05,0.5,1.0]],[77.45,[-0.85,-0.3,0.1,0.6,1.1]],[77.95,[-0.65,-0.2,0.25,0.7,1.2]],
  [78.45,[-0.9,-0.4,0.05,0.5,1.0]],[78.95,[-0.7,-0.25,0.2,0.65,1.15]],[79.45,[-0.8,-0.15,0.3,0.75,1.25]],[79.95,[-0.65,-0.2,0.25,0.7,1.2]],
  [80.45,[-1.3,-0.6,-0.1,0.4,0.9]],[80.95,[-1.0,-0.4,0.1,0.6,1.1]],[81.45,[-1.5,-0.8,-0.2,0.3,0.8]],[81.95,[-1.2,-0.55,0.0,0.5,1.0]],
  [82.45,[-1.3,-0.6,-0.1,0.4,0.9]],[82.95,[-1.0,-0.4,0.1,0.6,1.1]],[83.45,[-1.5,-0.8,-0.2,0.3,0.8]],[83.95,[-1.2,-0.55,0.0,0.5,1.0]],
  [84.45,[-1.3,-0.6,-0.1,0.4,0.9]],[84.95,[-1.0,-0.4,0.1,0.6,1.1]],[85.45,[-1.5,-0.8,-0.2,0.3,0.8]],[85.95,[-1.2,-0.55,0.0,0.5,1.0]],
  [86.45,[-1.3,-0.6,-0.1,0.4,0.9]],[86.95,[-1.0,-0.4,0.1,0.6,1.1]],[87.45,[-1.5,-0.8,-0.2,0.3,0.8]]
];

// halo above the band
const szaUpper = [
  [0.6,1.75],[1.4,1.9],[2.3,1.65],[3.0,2.0],[3.8,1.55],[4.6,2.6],[4.5,2.45],[5.9,1.85],[6.6,1.6],[8.2,1.85],[8.4,1.55],[9.4,1.75],[10.6,1.6],[11.1,1.85],[12.2,2.15],[13.0,1.7],
  [13.6,2.5],[14.8,2.3],[15.3,1.6],[15.9,2.1],[16.8,1.8],[17.6,2.2],[18.0,3.3],[18.9,1.7],[19.5,2.4],[20.4,1.9],[21.2,2.5],[21.5,2.3],[22.6,1.75],[23.3,2.2],[24.1,1.8],
  [24.8,2.45],[25.6,1.9],[26.3,2.6],[27.1,2.0],[27.9,1.7],[28.6,2.3],[29.3,1.85],[30.0,2.7],[30.6,2.5],[31.3,3.1],[31.9,1.9],[32.8,2.2],[33.6,1.7],[34.4,2.0],[35.0,2.4],
  [35.8,1.75],[36.6,2.1],[37.4,1.6],[38.2,2.3],[39.0,1.8],[39.8,2.0],[40.6,1.65],[41.6,3.0],[42.2,1.9],[43.0,2.15],[44.3,2.3],[45.1,1.7],[45.9,2.0],[46.8,1.6],[47.9,2.8],
  [48.5,1.85],[49.3,2.1],[50.4,1.6],[51.8,2.25],[52.6,1.7],[53.6,2.3],[54.5,1.55],[55.8,2.05],[56.4,1.7],[57.3,1.9],[58.4,1.9],[59.0,1.6],[59.8,2.15],[60.7,1.8],[61.5,1.65],
  [62.6,2.45],[63.2,1.9],[63.7,2.5],[64.7,2.25],[65.5,1.7],[66.3,2.0],[67.4,2.55],[68.0,2.95],[68.6,1.8],[69.5,2.35],[70.3,1.9],[71.1,2.25],[71.9,2.85],[72.5,1.7],[73.1,2.0],
  [73.8,2.5],[74.6,1.85],[75.3,2.1],[76.4,2.35],[77.0,1.65],[77.8,2.0],[78.5,1.75],[79.2,2.45],[79.9,1.9],[80.8,2.1],[81.7,2.3],[82.3,1.7],[83.0,2.0],[84.1,2.35],[84.7,1.75],
  [85.6,2.75],[86.3,2.1],[86.9,1.6],[87.4,2.4]
];

// halo below the band
const szaLower = [
  [0.2,-0.8],[0.4,-1.5],[0.3,-1.95],[0.9,-1.2],[1.3,-1.7],[1.9,-0.85],[2.5,-2.35],[3.2,-1.45],[3.9,-1.1],[4.3,-1.8],[4.7,-2.4],[5.0,-2.6],[5.5,-1.55],[5.8,-2.75],[6.4,-1.0],
  [6.7,-1.4],[7.1,-1.1],[7.9,-2.45],[8.3,-1.3],[8.8,-0.9],[9.8,-1.05],[10.1,-1.1],[10.9,-1.6],[11.6,-0.95],[12.9,-1.55],[13.2,-2.95],[13.9,-1.8],[14.6,-1.1],[15.4,-0.9],
  [16.1,-2.9],[16.2,-1.5],[17.0,-1.2],[17.8,-2.0],[18.6,-0.95],[19.3,-1.4],[20.1,-2.3],[20.8,-1.1],[21.6,-1.6],[22.4,-0.9],[23.1,-2.6],[23.8,-1.3],[24.5,-1.0],[25.3,-1.9],
  [26.0,-1.2],[26.8,-0.95],[27.3,-2.05],[28.0,-1.5],[28.8,-1.0],[29.5,-1.75],[30.2,-1.2],[30.9,-2.4],[31.5,-0.9],[32.3,-1.6],[33.0,-1.1],[33.8,-2.1],[34.5,-1.35],[35.3,-0.9],
  [36.0,-1.8],[36.8,-1.2],[37.5,-2.5],[38.4,-2.75],[38.9,-1.0],[39.6,-1.5],[40.2,-2.85],[40.8,-1.1],[41.5,-1.9],[42.3,-0.95],[43.0,-1.4],[43.8,-2.2],[44.5,-1.05],[45.3,-1.7],
  [46.0,-1.2],[46.8,-2.65],[47.5,-0.9],[48.2,-1.5],[49.0,-1.0],[49.6,-2.0],[50.5,-1.25],[51.2,-0.9],[51.7,-1.35],[52.4,-1.8],[53.3,-2.05],[54.0,-1.1],[54.7,-2.3],[55.4,-1.4],
  [56.2,-0.95],[56.7,-2.15],[56.9,-1.8],[57.6,-1.2],[58.3,-1.6],[59.1,-0.95],[59.7,-1.5],[60.4,-1.25],[61.1,-2.4],[61.9,-2.1],[62.6,-1.0],[63.3,-1.35],[64.0,-1.7],[64.8,-1.1],
  [65.4,-2.5],[66.0,-1.85],[66.7,-1.2],[67.5,-0.95],[68.2,-1.6],[68.9,-1.3],[69.3,-2.15],[70.1,-1.0],[70.8,-1.75],[71.5,-1.2],[72.2,-2.3],[72.7,-1.7],[73.3,-1.05],[73.8,-2.4],
  [74.4,-1.4],[75.0,-1.9],[75.7,-2.7],[76.3,-1.15],[76.9,-1.6],[77.1,-2.75],[77.6,-1.0],[78.3,-2.1],[78.9,-1.4],[79.4,-2.55],[80.0,-2.85],[80.3,-2.3],[80.7,-1.7],[81.3,-1.2],
  [82.0,-2.0],[82.5,-1.5],[83.0,-2.6],[83.5,-1.7],[84.0,-3.2],[84.2,-2.45],[84.6,-1.9],[84.9,-2.9],[85.3,-3.4],[85.5,-2.2],[85.8,-1.8],[86.1,-2.7],[86.4,-3.6],[86.6,-2.0],
  [86.9,-3.1],[87.1,-2.4],[87.3,-1.9],[87.5,-3.5],[87.6,-2.8],[87.2,-4.1],[86.8,-4.3],[85.9,-3.9]
];

// isolated outliers
const szaOutliers = [
  [1.8,-3.15],[8.3,-3.4],[30.3,7.2],[22,4.6],[40.2,4.1],[46.3,4.7],[59.2,4.8],[82.1,8.55],[78.4,6.05],[84.9,6.1],[82.4,5.75],[74.5,5.55],[75,4.9],[83.1,5.1],[83.7,4.8],
  [70.6,4.35],[80.2,4.05],[80.4,3.95],[83.5,3.9],[80.4,3.6],[73.8,3.55],[74.8,3.3],[73.2,3.1],[82.6,3.3],[81.9,3.4],[83.2,3.2],[85.5,3.8],[85.6,3.5],[85.4,3.3],[67.9,2.95],
  [71.9,2.85],[58.2,2.7],[82.9,2.85],[84,2.85],[85,2.8],
  [58,-3.3],[62.2,-3.5],[64,-6.4],[70,-3.35],[72.7,-3.75],[73.8,-3.4],[77.6,-4.2],[79.8,-4.3],[81.4,-5.2],[76.5,-6.1],[77.6,-6.3],[81.6,-3.9],[81.9,-3.6],[85,-4.0],[85,-4.5],
  [87,-4.8],[87.5,-6.6],[84.6,-3.0],[49.9,-5.1],[31.6,-3.05],[31.7,-3.7]
];

const toXY = arr => arr.map(p => ({ x: p[0], y: p[1] }));
const minus = s => String(s).replace('-', '\u2212');
const nb = '\u00a0';

const topSpine = {
  id: 'topSpine',
  afterDraw(chart) {
    const { ctx, chartArea } = chart;
    ctx.save();
    ctx.strokeStyle = '#333';
    ctx.lineWidth = 1.5;
    ctx.beginPath();
    ctx.moveTo(chartArea.left, chartArea.top);
    ctx.lineTo(chartArea.right, chartArea.top);
    ctx.stroke();
    ctx.restore();
  }
};

function axisStyle() {
  return {
    grid: { color: '#c6c6c6', lineWidth: 1.2, tickColor: '#333', tickLength: 6, tickWidth: 1.2 },
    border: { color: '#333', width: 1.5 },
    ticks: { color: '#333', font: { family: 'DejaVu Sans', size: 17.5 }, maxRotation: 0, autoSkip: false }
  };
}

function makeChart(id, opts) {
  const xs = axisStyle();
  const ys = axisStyle();
  return new Chart(document.getElementById(id), {
    type: 'scatter',
    data: {
      datasets: [{
        data: opts.points,
        backgroundColor: opts.color,
        borderWidth: 0,
        pointRadius: opts.radius,
        pointHoverRadius: opts.radius
      }]
    },
    options: {
      responsive: false,
      animation: false,
      devicePixelRatio: 1,
      events: [],
      layout: { padding: { top: opts.top, left: 0, right: 0, bottom: 0 } },
      plugins: { legend: { display: false }, tooltip: { enabled: false } },
      scales: {
        x: {
          type: 'linear', min: 0, max: opts.xMax,
          grid: xs.grid, border: xs.border,
          ticks: Object.assign({}, xs.ticks, { padding: 5 }),
          afterBuildTicks: s => { s.ticks = opts.xTicks.map(v => ({ value: v })); },
          afterFit: s => { s.height = opts.xAxisH; },
          title: {
            display: true, text: opts.xTitle, color: '#222',
            font: { family: 'Liberation Sans', size: opts.xTitleSize, lineHeight: 0.8 },
            padding: { top: 0, bottom: opts.xTitlePad }
          }
        },
        y: {
          type: 'linear', min: -10, max: opts.yMax,
          grid: ys.grid, border: ys.border,
          ticks: Object.assign({}, ys.ticks, { padding: 8, callback: opts.yFmt }),
          afterBuildTicks: s => { s.ticks = opts.yTicks.map(v => ({ value: v })); },
          afterFit: s => { s.width = opts.yAxisW; },
          title: {
            display: true, text: opts.yTitle, color: '#222',
            font: { family: 'Liberation Sans', size: 25, lineHeight: 1.2 },
            padding: { top: opts.yTitlePad, bottom: 0 }
          }
        }
      }
    },
    plugins: [topSpine]
  });
}

const yLabel = 'Difference (Actual \u2212 Predicted) [km]';
const pointsA = toXY(so2Low.concat(so2Band, so2Core, so2Off));
const pointsB = [];
szaCore.concat(szaCore2).forEach(c => c[1].forEach(v => pointsB.push({ x: c[0], y: v })));
toXY(szaUpper.concat(szaLower, szaOutliers)).forEach(p => pointsB.push(p));

makeChart('chartA', {
  points: pointsA, color: '#ff0000', radius: 4,
  top: 40, xAxisH: 79, yAxisW: 132,
  xMax: 201.875, yMax: 14.78,
  xTicks: so2Ticks, yTicks: diffTicksA,
  yFmt: v => minus(v),
  xTitle: 'SO\u2082 Column Amount (DU)', xTitleSize: 26, xTitlePad: 2.7,
  yTitle: yLabel + nb + nb + nb + nb, yTitlePad: 39
});

makeChart('chartB', {
  points: pointsB, color: '#0000ff', radius: 3,
  top: 46, xAxisH: 71, yAxisW: 140,
  xMax: 90.3, yMax: 9.32,
  xTicks: szaTicks, yTicks: diffTicksB,
  yFmt: v => minus(v.toFixed(1)),
  xTitle: 'SZA', xTitleSize: 24, xTitlePad: 1.7,
  yTitle: nb + nb + yLabel, yTitlePad: 38
});
</script>
</body>
</html>
